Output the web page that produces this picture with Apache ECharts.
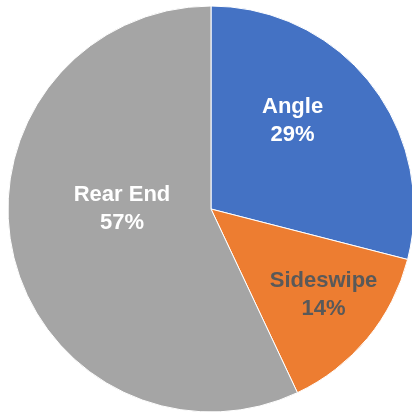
<!DOCTYPE html>
<html>
<head>
<meta charset="utf-8">
<script src="https://cdn.jsdelivr.net/npm/echarts@6/dist/echarts.min.js"></script>
<style>html,body{margin:0;padding:0;background:#fff}#c{width:412px;height:412px}</style>
</head>
<body>
<div id="c"></div>
<script>
const categories = ['Angle', 'Sideswipe', 'Rear End'];
const values = [29, 14, 57];
const colors = ['#4472C4', '#ED7D31', '#A5A5A5'];
const labelColors = ['#FFFFFF', '#595959', '#FFFFFF'];
const labelShift = [[-1, -24], [32, 19], [13, -23]];

const chart = echarts.init(document.getElementById('c'), null, {renderer: 'canvas'});
chart.setOption({
  animation: false,
  series: [{
    type: 'pie',
    center: [211, 209],
    radius: 203,
    startAngle: 90,
    clockwise: true,
    avoidLabelOverlap: false,
    itemStyle: {borderColor: '#fff', borderWidth: 1},
    label: {
      show: true,
      position: 'inside',
      formatter: p => p.name + '\n' + p.value + '%',
      fontFamily: 'Liberation Sans, Arial, sans-serif',
      fontWeight: 'bold',
      fontSize: 22,
      lineHeight: 28
    },
    labelLine: {show: false},
    labelLayout: p => ({dx: labelShift[p.dataIndex][0], dy: labelShift[p.dataIndex][1]}),
    data: categories.map((c, i) => ({
      name: c,
      value: values[i],
      itemStyle: {color: colors[i]},
      label: {color: labelColors[i]}
    }))
  }]
});
</script>
</body>
</html>
